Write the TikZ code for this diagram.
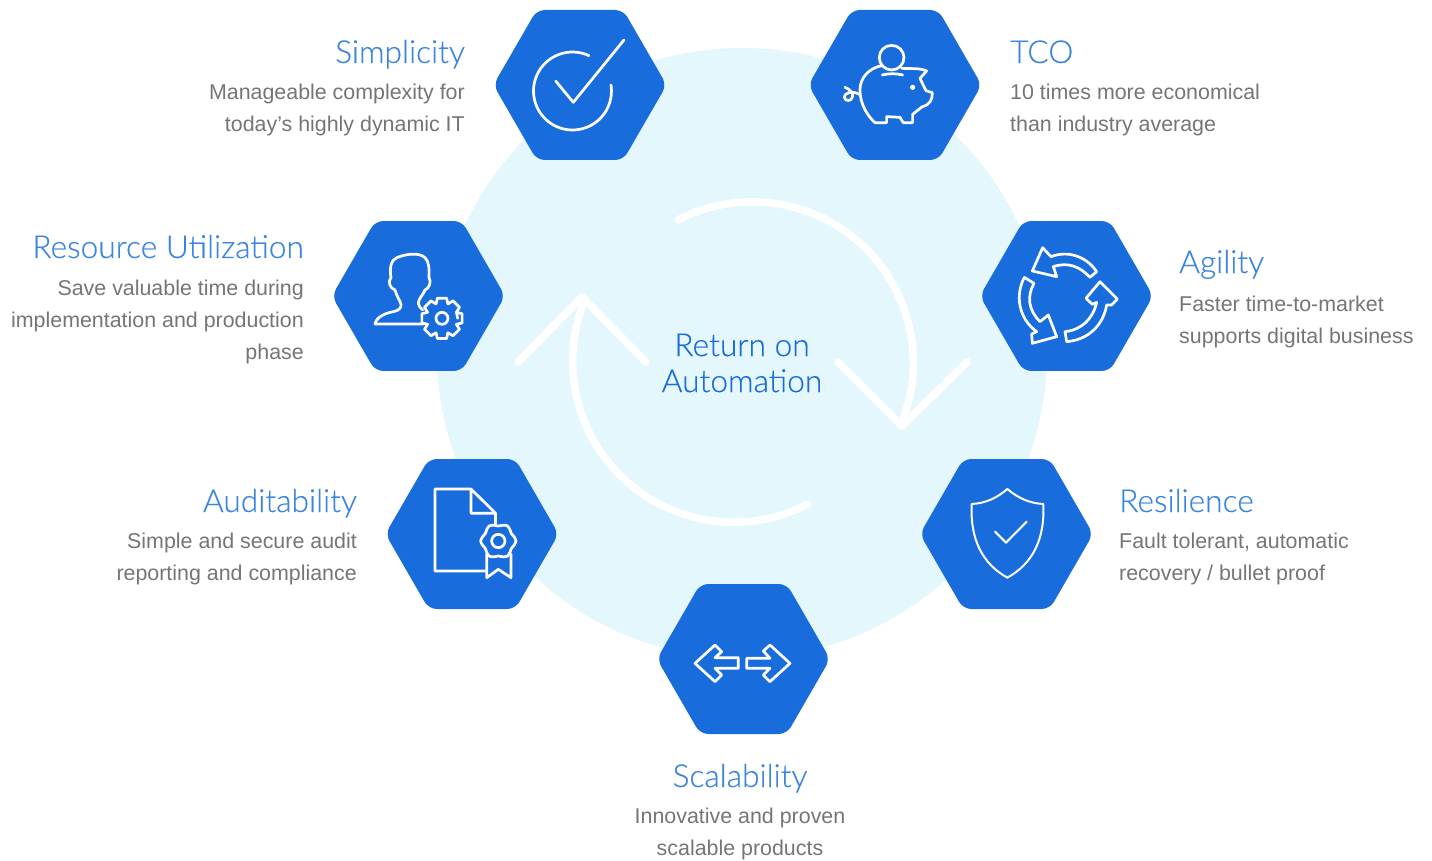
\documentclass[tikz,border=0pt]{standalone}
\usepackage{fontspec}
\setmainfont{Liberation Sans}
\newfontfamily\headfont[FakeBold=0.25]{Lato Light}
\usetikzlibrary{shapes.geometric}
\definecolor{hexblue}{HTML}{196CDC}
\definecolor{headblue}{HTML}{3A84E2}
\definecolor{paleblue}{HTML}{E4F7FC}
\definecolor{bodygray}{HTML}{757575}
\tikzset{
  hexagon/.style={regular polygon,regular polygon sides=6,minimum size=173.2pt,inner sep=0pt,outer sep=0pt,fill=hexblue,rounded corners=8pt},
  heading/.style={font=\headfont\fontsize{31.7}{36}\selectfont,text=headblue,inner sep=0pt},
  bodytext/.style={font=\fontsize{21.4}{32}\selectfont,text=bodygray,inner sep=0pt,execute at begin node=\strut},
  icon/.style={draw=white,line width=2.7pt,line join=round,line cap=round},
  sweep/.style={draw=white,line width=7.5pt,line cap=round,line join=round},
  zoomed/.style={x=0.3333pt,y=-0.3333pt}
}
\begin{document}
\begin{tikzpicture}[x=1pt,y=1pt]
\useasboundingbox (0,0) rectangle (1432,-861);
\fill[paleblue] (742,-353) circle (305pt);

\draw[sweep] (678,-220) arc (117.5:-20:161pt);
\draw[sweep] (838,-362) -- (902,-426) -- (967,-362);
\draw[sweep] (808,-504) arc (297.5:160:161pt);
\draw[sweep] (518,-362) -- (582,-297) -- (646,-362);

\node[hexagon] (simplicity) at (580,-85) {};
\node[hexagon] (tco) at (895,-85) {};
\node[hexagon] (resource) at (418.5,-296) {};
\node[hexagon] (agility) at (1066.5,-296) {};
\node[hexagon] (auditability) at (472,-534) {};
\node[hexagon] (resilience) at (1006.5,-534) {};
\node[hexagon] (scalability) at (743.5,-659) {};

\node[font=\headfont\fontsize{31.7}{36}\selectfont,text=hexblue,align=center,inner sep=0pt] (center) at (742,-363) {Return on\\Automation};

\node[heading,anchor=base east] (simplicityhead) at (465,-63) {Simplicity};
\node[bodytext,anchor=north east,align=right] (simplicitybody) at (465,-83.6) {Manageable complexity for\\today’s highly dynamic IT};
\node[heading,anchor=base west] (tcohead) at (1010,-63) {TCO};
\node[bodytext,anchor=north west,align=left] (tcobody) at (1010,-83.6) {10 times more economical\\than industry average};
\node[heading,anchor=base east] (resourcehead) at (304,-258) {Resource Utilization};
\node[bodytext,anchor=north east,align=right] (resourcebody) at (304,-279.6) {Save valuable time during\\implementation and production\\phase};
\node[heading,anchor=base west] (agilityhead) at (1179,-273) {Agility};
\node[bodytext,anchor=north west,align=left] (agilitybody) at (1179,-295.6) {Faster time-to-market\\supports digital business};
\node[heading,anchor=base east] (auditabilityhead) at (357,-512) {Auditability};
\node[bodytext,anchor=north east,align=right] (auditabilitybody) at (357,-532.6) {Simple and secure audit\\reporting and compliance};
\node[heading,anchor=base west] (resiliencehead) at (1119,-512) {Resilience};
\node[bodytext,anchor=north west,align=left] (resiliencebody) at (1119,-532.6) {Fault tolerant, automatic\\recovery / bullet proof};
\node[heading,anchor=base] (scalabilityhead) at (740,-787) {Scalability};
\node[bodytext,anchor=north,align=center] (scalabilitybody) at (740,-807.6) {Innovative and proven\\scalable products};

\begin{scope}[shift={(490,0)},zoomed]
\draw[icon] (297,167) arc (65:369:117*0.3333pt);
\draw[icon] (197,243) -- (250,307) -- (402,120);
\draw[icon] (1205,173) circle (37*0.3333pt);
\draw[icon] (1177,225) .. controls (1195,220) and (1220,220) .. (1238,225);
\fill[white] (1268,262) circle (2.6pt);
\draw[icon] (1175,197) .. controls (1135,205) and (1110,235) .. (1110,270) .. controls (1110,310) and (1130,345) .. (1155,368) -- (1190,368) -- (1190,350) -- (1230,352) -- (1240,368) -- (1268,368) -- (1268,343) -- (1297,320) .. controls (1320,315) and (1328,298) .. (1327,278) -- (1308,272) -- (1290,235) -- (1310,213) .. controls (1290,203) and (1260,207) .. (1235,205);
\draw[icon] (1108,283) .. controls (1085,270) and (1062,280) .. (1063,292) .. controls (1065,305) and (1085,305) .. (1088,290) .. controls (1090,278) and (1080,268) .. (1065,262);
\end{scope}

\begin{scope}[shift={(330,-215)},zoomed]
\draw[icon] (280,327) -- (135,327) .. controls (140,305) and (165,295) .. (190,290) .. controls (205,287) and (215,280) .. (213,268) .. controls (210,255) and (200,245) .. (195,225) .. controls (180,220) and (172,200) .. (183,188) .. controls (178,160) and (183,135) .. (200,128) .. controls (225,118) and (265,110) .. (285,128) .. controls (298,140) and (298,165) .. (297,188) .. controls (305,200) and (298,220) .. (285,225) .. controls (280,240) and (265,250) .. (265,265) .. controls (265,272) and (272,280) .. (278,285);
\begin{scope}[shift={(336,310)}]
\draw[icon] (0:47) \foreach \a in {0,45,...,315} { -- (\a-22:47) -- (\a-13:62) -- (\a+13:62) -- (\a+22:47) } -- cycle;
\draw[icon] (0,0) circle (18*0.3333pt);
\end{scope}
\end{scope}

\begin{scope}[shift={(975,-215)},zoomed]
\draw[icon] (365,170) -- (345,187) .. controls (315,155) and (280,140) .. (235,155) -- (245,185) -- (172,168) -- (203,98) -- (228,125) .. controls (280,105) and (335,125) .. (365,170);
\draw[icon] (148,187) -- (177,205) .. controls (155,245) and (160,285) .. (195,320) -- (220,300) -- (245,365) -- (172,385) -- (170,357) -- (185,350) .. controls (130,310) and (120,240) .. (148,187);
\draw[icon] (270,350) -- (275,380) .. controls (340,375) and (385,330) .. (395,270) -- (410,270) -- (427,252) -- (375,200) -- (333,250) -- (352,268) -- (365,262) .. controls (355,310) and (320,345) .. (270,350);
\end{scope}

\begin{scope}[shift={(385,-455)},zoomed]
\draw[icon] (305,348) -- (150,348) -- (150,102) -- (258,102) -- (332,175) -- (258,175) -- (258,102);
\draw[icon] (332,175) -- (332,205);
\begin{scope}[shift={(340,258)}]
\draw[icon,smooth cycle] plot[domain=0:345,samples=24] (\x:{49+4*cos(6*\x)});
\draw[icon] (0,0) circle (20*0.3333pt);
\end{scope}
\draw[icon] (305,297) -- (305,368) -- (340,343) -- (378,368) -- (378,297);
\end{scope}

\begin{scope}[shift={(655,-580)},zoomed]
\draw[icon] (120,250) -- (180,195) -- (200,215) -- (180,233) -- (250,233) -- (250,265) -- (180,265) -- (200,285) -- (180,305) -- cycle;
\draw[icon] (405,250) -- (345,195) -- (325,213) -- (345,235) -- (275,235) -- (275,265) -- (345,265) -- (325,285) -- (345,305) -- cycle;
\end{scope}

\begin{scope}[shift={(920,-455)},zoomed]
\draw[icon,line width=2pt] (262,102) .. controls (230,130) and (195,145) .. (155,147) .. controls (150,250) and (185,325) .. (262,368) .. controls (340,325) and (375,250) .. (370,147) .. controls (330,145) and (295,130) .. (262,102) -- cycle;
\draw[icon,line width=2pt] (225,230) -- (258,263) -- (320,200);
\end{scope}
\end{tikzpicture}
\end{document}
